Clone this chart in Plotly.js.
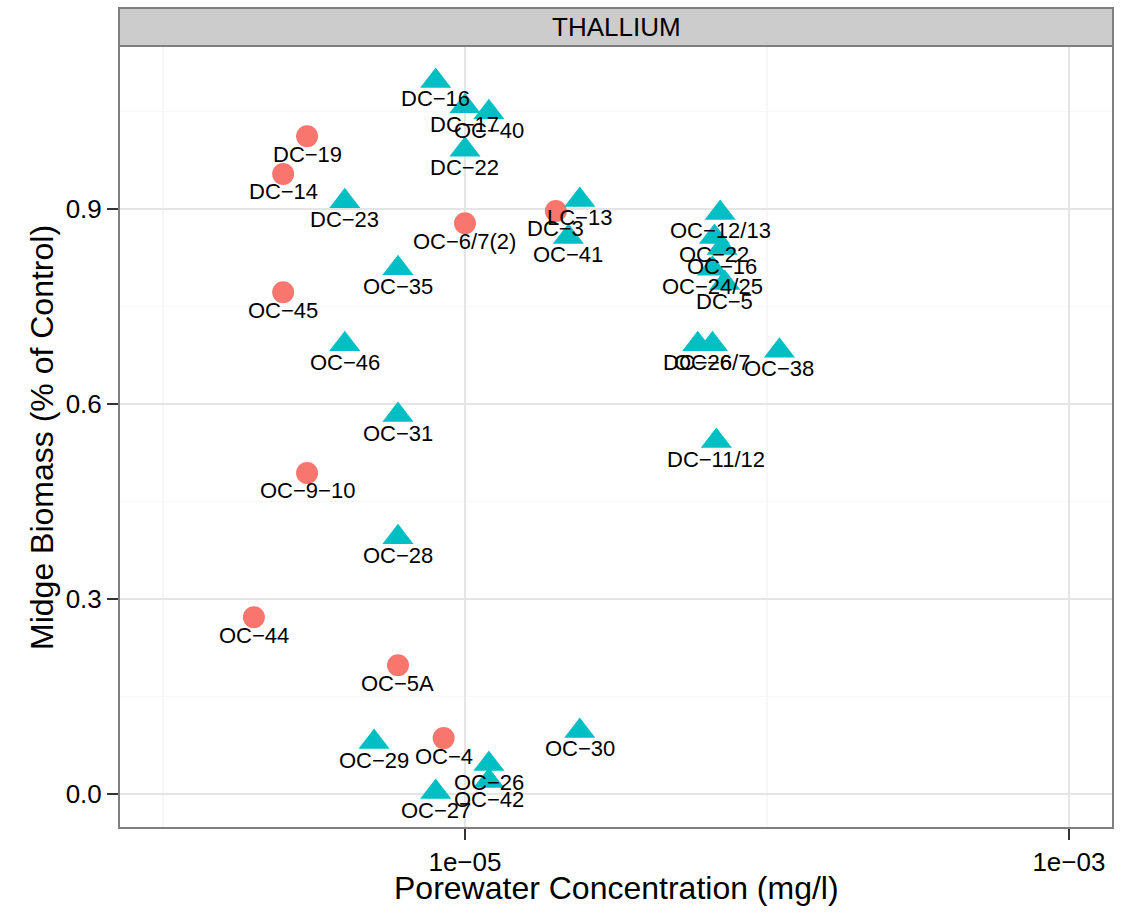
<!DOCTYPE html>
<html>
<head>
<meta charset="utf-8">
<script src="https://cdn.plot.ly/plotly-3.0.1.min.js"></script>
<style>html,body{margin:0;padding:0;background:#fff;}#chart{width:1122px;height:913px;}</style>
</head>
<body>
<div id="chart"></div>
<script>
// Group 1 (circles)
var circleLabels = ["DC−19", "DC−14", "OC−45", "OC−9−10", "OC−44", "OC−5A", "OC−4", "OC−6/7(2)", "DC−3"];
var circleConc   = [3.0e-6, 2.5e-6, 2.5e-6, 3.0e-6, 2.0e-6, 6.0e-6, 8.5e-6, 1.0e-5, 2.0e-5];
var circleBio    = [1.012, 0.954, 0.772, 0.494, 0.272, 0.198, 0.086, 0.878, 0.897];

// Group 2 (triangles)
var triLabels = ["DC−16", "DC−17", "OC−40", "DC−22", "DC−23", "LC−13", "OC−41", "OC−35", "OC−46", "OC−31",
                 "OC−28", "OC−29", "OC−27", "OC−26", "OC−42", "OC−30", "OC−12/13", "OC−22", "OC−16", "OC−24/25",
                 "DC−5", "DC−26", "OC−6/7", "OC−38", "DC−11/12"];
var triConc = [8.0e-6, 1.0e-5, 1.2e-5, 1.0e-5, 4.0e-6, 2.4e-5, 2.2e-5, 6.0e-6, 4.0e-6, 6.0e-6,
               6.0e-6, 5.0e-6, 8.0e-6, 1.2e-5, 1.2e-5, 2.4e-5, 7.0e-5, 6.7e-5, 7.1e-5, 6.6e-5,
               7.25e-5, 5.9e-5, 6.6e-5, 1.1e-4, 6.8e-5];
var triBio = [1.097, 1.058, 1.049, 0.991, 0.912, 0.914, 0.857, 0.809, 0.692, 0.583,
              0.395, 0.080, 0.003, 0.046, 0.020, 0.097, 0.894, 0.857, 0.840, 0.808,
              0.786, 0.692, 0.692, 0.682, 0.543];

// Axis ticks and titles
var xTickVals = [1e-5, 1e-3];
var xTickText = ["1e−05", "1e−03"];
var xMinorVals = [1e-6, 1e-4];
var yTickVals = [0, 0.3, 0.6, 0.9];
var yTickText = ["0.0", "0.3", "0.6", "0.9"];
var yMinorVals = [0.15, 0.45, 0.75, 1.05];
var xTitle = "Porewater Concentration (mg/l)";
var yTitle = "Midge Biomass (% of Control)";
var panelTitle = "THALLIUM";

var FONT = "Liberation Sans, Arial, Helvetica, sans-serif";

var traces = [
  {x: circleConc, y: circleBio, type: "scatter", mode: "markers", hoverinfo: "text", text: circleLabels,
   marker: {symbol: "circle", size: 22, color: "#F8766D", line: {width: 0}}},
  {x: triConc, y: triBio, type: "scatter", mode: "markers", hoverinfo: "text", text: triLabels,
   marker: {symbol: "triangle-up", size: 27, color: "#00BFC4", line: {width: 0}}}
];

var annotations = [];
function addLabels(xs, ys, ts) {
  for (var i = 0; i < xs.length; i++) {
    annotations.push({x: Math.log10(xs[i]), y: ys[i], xref: "x", yref: "y", text: ts[i],
      showarrow: false, yshift: -18, xanchor: "center", yanchor: "middle",
      font: {family: FONT, size: 22, color: "#000"}});
  }
}
addLabels(circleConc, circleBio, circleLabels);
addLabels(triConc, triBio, triLabels);

// strip text
annotations.push({xref: "paper", yref: "paper", x: 0.5, y: 1.0243, text: panelTitle, showarrow: false,
  xanchor: "center", yanchor: "middle", font: {family: FONT, size: 26, color: "#000"}});
// axis titles
annotations.push({xref: "paper", yref: "paper", x: 0.5, y: -0.0768, text: xTitle, showarrow: false,
  xanchor: "center", yanchor: "middle", font: {family: FONT, size: 32, color: "#000"}});
annotations.push({xref: "paper", yref: "paper", x: -0.0775, y: 0.5, text: yTitle, showarrow: false,
  textangle: -90, xanchor: "center", yanchor: "middle", font: {family: FONT, size: 32, color: "#000"}});

var layout = {
  width: 1122, height: 913,
  margin: {l: 119, r: 9, t: 46, b: 85},
  paper_bgcolor: "#fff", plot_bgcolor: "#fff",
  showlegend: false,
  font: {family: FONT, color: "#000"},
  xaxis: {
    type: "log", range: [-6.1457, -2.854],
    tickvals: xTickVals, ticktext: xTickText,
    ticks: "outside", ticklen: 11, tickwidth: 2, tickcolor: "#333",
    tickfont: {family: FONT, size: 26, color: "#000"},
    showgrid: true, gridcolor: "#E5E5E5", gridwidth: 1.5,
    minor: {tickvals: xMinorVals, showgrid: true, gridcolor: "#F7F7F7", gridwidth: 1.5, ticks: ""},
    zeroline: false, showline: false
  },
  yaxis: {
    range: [-0.0523, 1.1508],
    tickvals: yTickVals, ticktext: yTickText,
    ticks: "outside", ticklen: 11, tickwidth: 2, tickcolor: "#333",
    tickfont: {family: FONT, size: 26, color: "#000"},
    showgrid: true, gridcolor: "#E5E5E5", gridwidth: 1.5,
    minor: {tickvals: yMinorVals, showgrid: true, gridcolor: "#F7F7F7", gridwidth: 1.5, ticks: ""},
    zeroline: false, showline: false
  },
  shapes: [
    {type: "rect", xref: "paper", yref: "paper", x0: 0, x1: 1, y0: 0, y1: 1,
     line: {color: "#7F7F7F", width: 2}, fillcolor: "rgba(0,0,0,0)", layer: "above"},
    {type: "rect", xref: "paper", yref: "paper", x0: 0, x1: 1, y0: 1, y1: 1.0486,
     line: {color: "#7F7F7F", width: 2}, fillcolor: "#CCCCCC", layer: "above"}
  ],
  annotations: annotations
};

Plotly.newPlot("chart", traces, layout, {displayModeBar: false, staticPlot: true});
</script>
</body>
</html>
